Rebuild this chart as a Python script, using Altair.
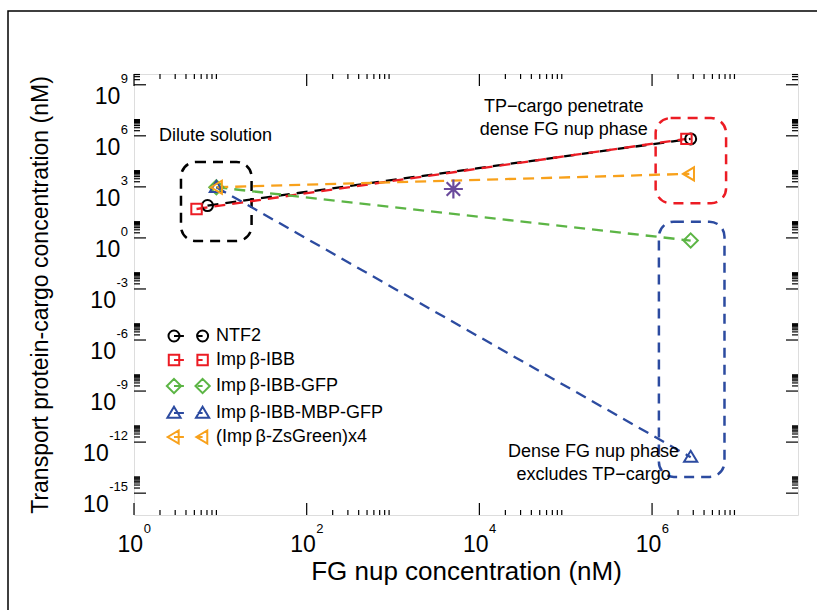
import altair as alt
import pandas as pd

FONT = "Liberation Sans"

# ---- series: dilute-solution point and dense FG-nup-phase point ----------
series = ["NTF2", "Imp\u2009β-IBB", "Imp\u2009β-IBB-GFP",
          "Imp\u2009β-IBB-MBP-GFP", "(Imp\u2009β-ZsGreen)x4"]
colors = ["#000000", "#ec1c24", "#5cb545", "#2c4ba0", "#f8a11b"]

fg_dilute = [7.1, 5.3, 9.0, 9.0, 9.2]
tp_dilute = [80, 50, 950, 950, 950]
fg_dense = [2.8e6, 2.5e6, 2.8e6, 2.8e6, 2.7e6]
tp_dense = [6.6e5, 6.6e5, 0.7, 1.3e-13, 5.8e3]

# single reference point (asterisk)
star_fg = [5.0e3]
star_tp = [7.5e2]

# dashed regions
box_x1 = [3.5, 1.1e6, 1.2e6]
box_x2 = [23.0, 7.2e6, 6.9e6]
box_y1 = [2.9e4, 1.1e7, 9.0]
box_y2 = [0.65, 110.0, 9.0e-15]
box_color = ["#000000", "#ec1c24", "#2c4ba0"]

# annotations
note_left_text = ["Dilute solution"]
note_left_fg = [1.95]
note_left_tp = [1.0e6]
note_mid_text = ["TP\u2212cargo penetrate\ndense FG nup phase",
                 "Dense FG nup phase\nexcludes TP\u2212cargo"]
note_mid_fg = [9.5e4, 2.1e5]
note_mid_tp = [5.0e7, 2.6e-13]

# axes
x_major = [1, 1e2, 1e4, 1e6]
x_major_exp = ["0", "2", "4", "6"]
y_major = [1e-15, 1e-12, 1e-9, 1e-6, 1e-3, 1, 1e3, 1e6, 1e9]
y_major_exp = ["-15", "-12", "-9", "-6", "-3", "0", "3", "6", "9"]
minor_mult = [2, 3, 4, 5, 6, 7, 8, 9]

X_DOMAIN = [1, 4.9e7]
Y_DOMAIN = [5.2e-17, 4.3e9]

W, H = 664, 441
BIG, SUP = 23, 13

xs = alt.Scale(type="log", domain=X_DOMAIN)
ys = alt.Scale(type="log", domain=Y_DOMAIN)

# one axis definition per direction, shared by every layer (titles only;
# ticks and labels are drawn as marks below)
ax_x = alt.Axis(title="FG nup concentration (nM)", labels=False, ticks=False,
                domain=False, grid=False, titleFont=FONT, titleFontSize=26,
                titleFontWeight="normal", titleColor="black", titlePadding=43)
ax_y = alt.Axis(title="Transport protein-cargo concentration (nM)", labels=False,
                ticks=False, domain=False, grid=False, titleFont=FONT,
                titleFontSize=BIG, titleFontWeight="normal", titleColor="black",
                titlePadding=82)


def xq(field):
    return alt.X(field, scale=xs, axis=ax_x)


def yq(field):
    return alt.Y(field, scale=ys, axis=ax_y)


# ---- marker shapes (unit = half of sqrt(size)) ---------------------------
def circle(cx):
    return f"M{cx + 1},0 A1,1 0 1,1 {cx - 1},0 A1,1 0 1,1 {cx + 1},0 Z"


def square(cx):
    h = 0.95
    return f"M{cx - h},{-h} L{cx + h},{-h} L{cx + h},{h} L{cx - h},{h} Z"


def diamond(cx):
    h = 1.3
    return f"M{cx},{-h} L{cx + h},0 L{cx},{h} L{cx - h},0 Z"


def tri_up(cx):
    return f"M{cx},-1.15 L{cx + 1.2},0.85 L{cx - 1.2},0.85 Z"


def tri_left(cx):
    return f"M{cx - 1.15},0 L{cx + 0.85},-1.2 L{cx + 0.85},1.2 Z"


makers = [circle, square, diamond, tri_up, tri_left]
marker_paths = [m(0) for m in makers]
GAP = 5.2
legend_paths = [m(0) + " " + m(GAP) + f" M0,0 L1.8,0 M4.3,0 L{GAP},0"
                for m in makers]
asterisk = ("M0,-1 L0,1 M-1,0 L1,0 M-0.71,-0.71 L0.71,0.71 "
            "M-0.71,0.71 L0.71,-0.71")

# ---- tables ---------------------------------------------------------------
rows = []
for i, s in enumerate(series):
    rows.append({"series": s, "fg": fg_dilute[i], "tp": tp_dilute[i], "k": i})
    rows.append({"series": s, "fg": fg_dense[i], "tp": tp_dense[i], "k": i})
pts = pd.DataFrame(rows)

color_scale = alt.Scale(domain=series, range=colors)

frame = alt.Chart(pd.DataFrame({"a": [0]})).mark_rect(
    filled=False, stroke="black", strokeWidth=1.5
).encode(x=alt.value(-126), x2=alt.value(900), y=alt.value(-63), y2=alt.value(700))

boxes = alt.Chart(pd.DataFrame({
    "x1": box_x1, "x2": box_x2, "y1": box_y1, "y2": box_y2, "c": box_color
})).mark_rect(filled=False, strokeWidth=2.5, strokeDash=[10, 7], cornerRadius=15).encode(
    x=xq("x1:Q"), x2="x2:Q",
    y=yq("y1:Q"), y2="y2:Q",
    stroke=alt.Stroke("c:N", scale=None),
)

lines = alt.Chart(pts).mark_line(strokeWidth=2.3, strokeDash=[11, 7]).encode(
    x=xq("fg:Q"), y=yq("tp:Q"),
    color=alt.Color("series:N", scale=color_scale, legend=None),
    detail="k:N",
)

points = alt.Chart(pts).mark_point(filled=False, size=121, strokeWidth=2, opacity=1).encode(
    x=xq("fg:Q"), y=yq("tp:Q"),
    color=alt.Color("series:N", scale=color_scale, legend=None),
    shape=alt.Shape("series:N", scale=alt.Scale(domain=series, range=marker_paths), legend=None),
)

star = alt.Chart(pd.DataFrame({"fg": star_fg, "tp": star_tp})).mark_point(
    shape=asterisk, size=361, strokeWidth=2.2, color="#6a4a9c", filled=False, opacity=1
).encode(x=xq("fg:Q"), y=yq("tp:Q"))

notes_left = alt.Chart(pd.DataFrame({"fg": note_left_fg, "tp": note_left_tp, "t": note_left_text})).mark_text(
    align="left", baseline="middle", font=FONT, fontSize=18, color="black"
).encode(x=xq("fg:Q"), y=yq("tp:Q"), text="t:N")

notes_mid = alt.Chart(pd.DataFrame({"fg": note_mid_fg, "tp": note_mid_tp, "t": note_mid_text})).mark_text(
    align="center", baseline="middle", font=FONT, fontSize=18, color="black",
    lineBreak="\n", lineHeight=23
).encode(x=xq("fg:Q"), y=yq("tp:Q"), text="t:N")


# ---- ticks (inward, on all four sides) -----------------------------------
def in_dom(v, dom):
    return dom[0] <= v <= dom[1]


x_minor = [m * b for b in x_major for m in minor_mult if in_dom(m * b, X_DOMAIN)]
y_minor = [m * b for b in y_major for m in minor_mult if in_dom(m * b, Y_DOMAIN)]


def x_ticks(vals, length):
    base = alt.Chart(pd.DataFrame({"v": vals})).mark_rule(color="black", strokeWidth=1.2)
    return [base.encode(x=xq("v:Q"), y=alt.value(H), y2=alt.value(H - length)),
            base.encode(x=xq("v:Q"), y=alt.value(0), y2=alt.value(length))]


def y_ticks(vals, length):
    base = alt.Chart(pd.DataFrame({"v": vals})).mark_rule(color="black", strokeWidth=1.2)
    return [base.encode(y=yq("v:Q"), x=alt.value(0), x2=alt.value(length)),
            base.encode(y=yq("v:Q"), x=alt.value(W), x2=alt.value(W - length))]


ticks = x_ticks(x_major, 12) + x_ticks(x_minor, 5) + y_ticks(y_major, 12) + y_ticks(y_minor, 6)


# ---- tick labels: "10" with a raised exponent ------------------------------
def sup_width(e):
    return sum(0.556 * SUP if c.isdigit() else 0.333 * SUP for c in e)


xl = pd.DataFrame({"v": x_major, "e": x_major_exp})
shift = (2 * 0.556 * BIG + sup_width("0")) / 2 - sup_width("0")
x_labels = [
    alt.Chart(xl).mark_text(align="right", baseline="alphabetic", font=FONT, fontSize=BIG,
                            dx=shift, color="black").encode(
        x=xq("v:Q"), y=alt.value(H + 37), text=alt.value("10")),
    alt.Chart(xl).mark_text(align="left", baseline="alphabetic", font=FONT, fontSize=SUP,
                            dx=shift + 0.5, color="black").encode(
        x=xq("v:Q"), y=alt.value(H + 18), text="e:N"),
]

yl = pd.DataFrame({"v": y_major, "e": y_major_exp})
y_labels = [
    alt.Chart(yl).mark_text(align="right", baseline="alphabetic", font=FONT, fontSize=SUP,
                            dy=-2, color="black").encode(
        y=yq("v:Q"), x=alt.value(-6), text="e:N")
]
for n in sorted(set(len(e) for e in y_major_exp)):
    sub = yl[yl["e"].str.len() == n]
    w = max(sup_width(e) for e in sub["e"])
    y_labels.append(
        alt.Chart(sub).mark_text(align="right", baseline="alphabetic", font=FONT, fontSize=BIG,
                                 dy=19, color="black").encode(
            y=yq("v:Q"), x=alt.value(-6 - w - 0.5), text=alt.value("10"))
    )

# ---- legend: marker - line - marker for each series -----------------------
legend_layer = alt.Chart(pts).transform_filter("false").mark_point(
    filled=False, strokeWidth=2, opacity=1
).encode(
    x=xq("fg:Q"), y=yq("tp:Q"),
    color=alt.Color("series:N", scale=color_scale, title=None,
                    legend=alt.Legend(orient="none", legendX=31, legendY=253, padding=0,
                                      labelFont=FONT, labelFontSize=18, labelColor="black",
                                      labelOffset=33, symbolSize=121, symbolStrokeWidth=2,
                                      rowPadding=4, labelLimit=400)),
    shape=alt.Shape("series:N", scale=alt.Scale(domain=series, range=legend_paths), title=None),
)

chart = alt.layer(
    frame, boxes, lines, points, star, notes_left, notes_mid,
    *ticks, *x_labels, *y_labels, legend_layer
).resolve_scale(color="independent", shape="independent").properties(
    width=W, height=H,
    padding={"left": 134, "top": 74, "right": 19, "bottom": 95},
    autosize=alt.AutoSizeParams(type="none"),
).configure_view(stroke="black", strokeWidth=1.5).configure(background="white")

chart.save("out.html", embed_options={"renderer": "svg", "actions": False})
